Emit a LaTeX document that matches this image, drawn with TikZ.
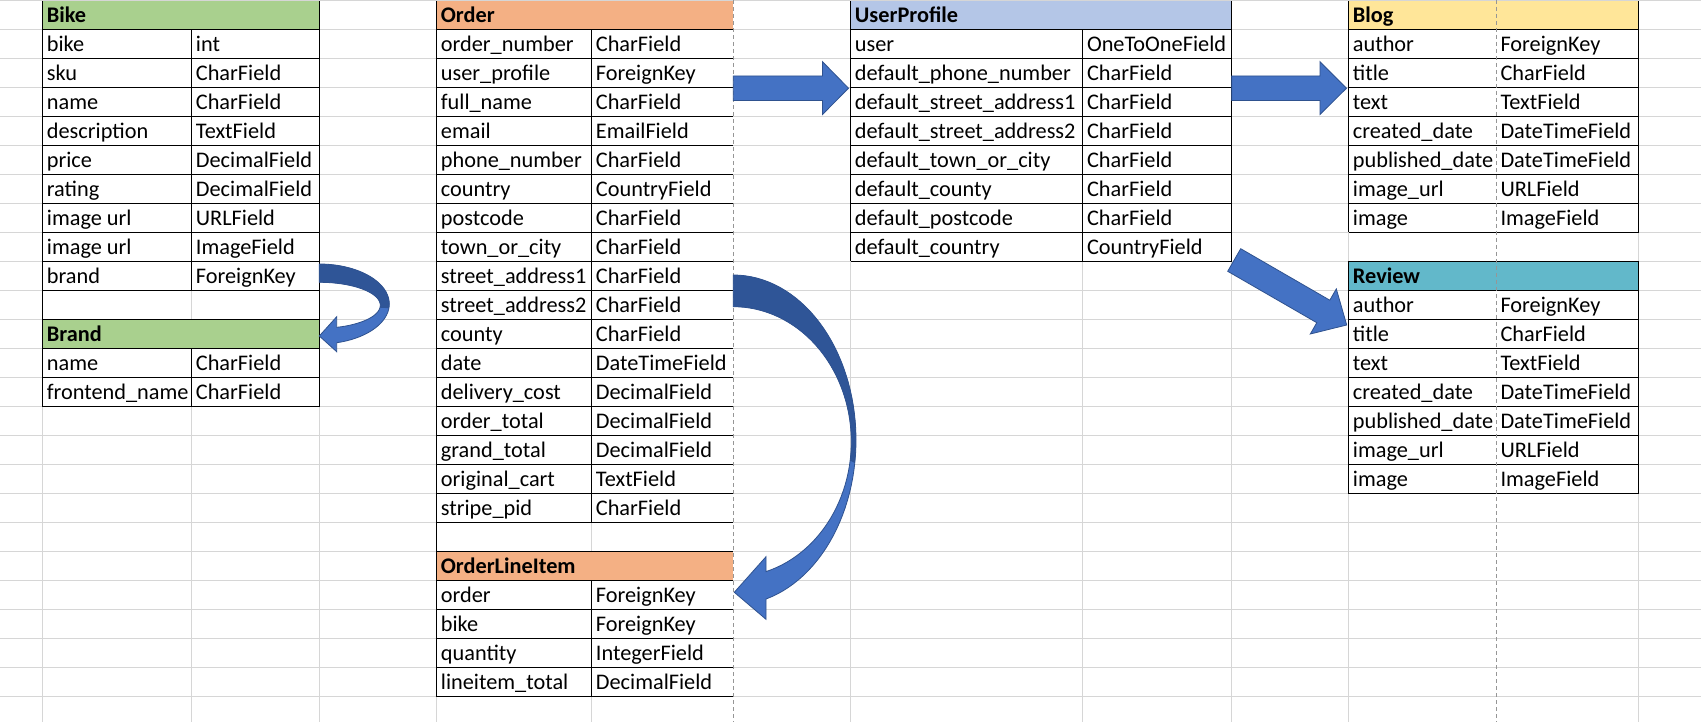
\documentclass[tikz,border=0pt]{standalone}
\usepackage{fontspec}
\setmainfont{Carlito}
\definecolor{gridgray}{RGB}{214,214,214}
\definecolor{pbgray}{RGB}{150,150,150}
\definecolor{hgreen}{RGB}{169,208,142}
\definecolor{horange}{RGB}{244,176,132}
\definecolor{hblue}{RGB}{180,198,231}
\definecolor{hyellow}{RGB}{255,230,153}
\definecolor{hteal}{RGB}{98,184,202}
\definecolor{arrowlight}{RGB}{68,114,196}
\definecolor{arrowdark}{RGB}{47,85,151}
\definecolor{arrowedge}{RGB}{47,82,143}
\begin{document}
\begin{tikzpicture}[x=1pt,y=-1pt,
  cell/.style={anchor=base west, inner sep=0pt, font=\fontsize{22.3}{26}\selectfont},
  headcell/.style={anchor=base west, inner sep=0pt, font=\fontsize{22.3}{26}\selectfont\bfseries},
  gridline/.style={draw=gridgray, line width=1pt},
  tblline/.style={draw=black, line width=1.2pt},
  pagebreak/.style={draw=pbgray, line width=1pt, dash pattern=on 4pt off 3pt},
  blockarrow/.style={fill=arrowlight, draw=arrowedge, line width=0.8pt, line join=miter},
  backpart/.style={fill=arrowdark},
  edgeonly/.style={draw=arrowedge, line width=0.8pt, line join=miter},
]
\useasboundingbox (0,0) rectangle (1701,722);
\fill[white] (0,0) rectangle (1701,722);
\begin{scope}
\clip (0,0) rectangle (1701,722);
% spreadsheet grid
\foreach \gx in {42.7,191.7,319.3,436.7,591.7,850.7,1082.8,1231.5,1348.7,1638.7}
  \draw[gridline] (\gx,0) -- (\gx,722);
\foreach \k in {0,...,24}
  \draw[gridline] (0,{0.5+29*\k}) -- (1701,{0.5+29*\k});

% header fills
\fill[hgreen]  (42.7,1.2) rectangle (319.3,29.5);
\fill[hgreen]  (42.7,319.5) rectangle (319.3,348.5);
\fill[horange] (436.7,1.2) rectangle (733.3,29.5);
\fill[horange] (436.7,551.5) rectangle (733.3,580.5);
\fill[hblue]   (850.7,1.2) rectangle (1231.5,29.5);
\fill[hyellow] (1348.7,1.2) rectangle (1638.7,29.5);
\fill[hteal]   (1348.7,261.5) rectangle (1638.7,290.5);

% Bike / Brand borders
\draw[tblline] (42.7,1.2) -- (42.7,406.5);
\draw[tblline] (319.3,1.2) -- (319.3,406.5);
\foreach \yy in {29.5,58.5,87.5,116.5,145.5,174.5,203.5,232.5,261.5,290.5,319.5,348.5,377.5,406.5}
  \draw[tblline] (42.7,\yy) -- (319.3,\yy);
\draw[tblline] (191.7,29.5) -- (191.7,290.5);
\draw[tblline] (191.7,348.5) -- (191.7,406.5);

% Order / OrderLineItem borders
\draw[tblline] (436.7,1.2) -- (436.7,696.5);
\foreach \yy in {29.5,58.5,87.5,116.5,145.5,174.5,203.5,232.5,261.5,290.5,319.5,348.5,377.5,406.5,435.5,464.5,493.5,522.5,551.5,580.5,609.5,638.5,667.5,696.5}
  \draw[tblline] (436.7,\yy) -- (733.3,\yy);
\draw[tblline] (591.7,29.5) -- (591.7,522.5);
\draw[tblline] (591.7,580.5) -- (591.7,696.5);

% UserProfile borders
\draw[tblline] (850.7,1.2) -- (850.7,261.5);
\draw[tblline] (1231.5,1.2) -- (1231.5,261.5);
\foreach \yy in {29.5,58.5,87.5,116.5,145.5,174.5,203.5,232.5,261.5}
  \draw[tblline] (850.7,\yy) -- (1231.5,\yy);
\draw[tblline] (1082.8,29.5) -- (1082.8,261.5);

% Blog borders
\draw[tblline] (1348.7,1.2) -- (1348.7,232.5);
\draw[tblline] (1638.7,1.2) -- (1638.7,232.5);
\foreach \yy in {29.5,58.5,87.5,116.5,145.5,174.5,203.5,232.5}
  \draw[tblline] (1348.7,\yy) -- (1638.7,\yy);

% Review borders
\draw[tblline] (1348.7,261.5) -- (1348.7,493.5);
\draw[tblline] (1638.7,261.5) -- (1638.7,493.5);
\foreach \yy in {261.5,290.5,319.5,348.5,377.5,406.5,435.5,464.5,493.5}
  \draw[tblline] (1348.7,\yy) -- (1638.7,\yy);

% page breaks
\draw[pagebreak] (733.3,0) -- (733.3,722);
\draw[pagebreak] (1496.3,0) -- (1496.3,722);
\end{scope}

% ---- texts ----
\node[headcell] (bike-h) at (46.7,22.7) {Bike};
\foreach \a/\b [count=\i] in {bike/int, sku/CharField, name/CharField, description/TextField, price/DecimalField, rating/DecimalField, image url/URLField, image url/ImageField, brand/ForeignKey}{
  \node[cell] (bike-a\i) at (46.7,{22.7+29*\i}) {\a};
  \node[cell] (bike-b\i) at (195.7,{22.7+29*\i}) {\b};
}
\node[headcell] (brand-h) at (46.7,{22.7+29*11}) {Brand};
\foreach \a/\b [count=\i] in {name/CharField, frontend\_name/CharField}{
  \node[cell] (brand-a\i) at (46.7,{22.7+29*(\i+11)}) {\a};
  \node[cell] (brand-b\i) at (195.7,{22.7+29*(\i+11)}) {\b};
}

\node[headcell] (order-h) at (440.7,22.7) {Order};
\foreach \a/\b [count=\i] in {order\_number/CharField, user\_profile/ForeignKey, full\_name/CharField, email/EmailField, phone\_number/CharField, country/CountryField, postcode/CharField, town\_or\_city/CharField, street\_address1/CharField, street\_address2/CharField, county/CharField, date/DateTimeField, delivery\_cost/DecimalField, order\_total/DecimalField, grand\_total/DecimalField, original\_cart/TextField, stripe\_pid/CharField}{
  \node[cell] (order-a\i) at (440.7,{22.7+29*\i}) {\a};
  \node[cell] (order-b\i) at (595.7,{22.7+29*\i}) {\b};
}
\node[headcell] (oli-h) at (440.7,{22.7+29*19}) {OrderLineItem};
\foreach \a/\b [count=\i] in {order/ForeignKey, bike/ForeignKey, quantity/IntegerField, lineitem\_total/DecimalField}{
  \node[cell] (oli-a\i) at (440.7,{22.7+29*(\i+19)}) {\a};
  \node[cell] (oli-b\i) at (595.7,{22.7+29*(\i+19)}) {\b};
}

\node[headcell] (up-h) at (854.7,22.7) {UserProfile};
\foreach \a/\b [count=\i] in {user/OneToOneField, default\_phone\_number/CharField, default\_street\_address1/CharField, default\_street\_address2/CharField, default\_town\_or\_city/CharField, default\_county/CharField, default\_postcode/CharField, default\_country/CountryField}{
  \node[cell] (up-a\i) at (854.7,{22.7+29*\i}) {\a};
  \node[cell] (up-b\i) at (1086.8,{22.7+29*\i}) {\b};
}

\node[headcell] (blog-h) at (1352.7,22.7) {Blog};
\foreach \a/\b [count=\i] in {author/ForeignKey, title/CharField, text/TextField, created\_date/DateTimeField, published\_date/DateTimeField, image\_url/URLField, image/ImageField}{
  \node[cell] (blog-a\i) at (1352.7,{22.7+29*\i}) {\a};
  \node[cell] (blog-b\i) at (1500.3,{22.7+29*\i}) {\b};
}
\node[headcell] (rev-h) at (1352.7,{22.7+29*9}) {Review};
\foreach \a/\b [count=\i] in {author/ForeignKey, title/CharField, text/TextField, created\_date/DateTimeField, published\_date/DateTimeField, image\_url/URLField, image/ImageField}{
  \node[cell] (rev-a\i) at (1352.7,{22.7+29*(\i+9)}) {\a};
  \node[cell] (rev-b\i) at (1500.3,{22.7+29*(\i+9)}) {\b};
}

% ---- arrows ----
% Order -> UserProfile
\draw[blockarrow] (733.3,76) -- (822.5,76) -- (822.5,61.7) -- (848.5,88.2) -- (822.5,114.5) -- (822.5,100.5) -- (733.3,100.5) -- cycle;
% UserProfile -> Blog
\draw[blockarrow] (1231.7,76) -- (1320,76) -- (1320,61.7) -- (1346.5,88.2) -- (1320,114.5) -- (1320,100.5) -- (1231.7,100.5) -- cycle;
% UserProfile -> Review
\draw[blockarrow] (1227.7,271.3) -- (1316.8,322.7) -- (1310.3,334) -- (1346.7,325) -- (1336.3,288.9) -- (1329.8,300.2) -- (1240.7,248.7) -- cycle;

% Bike -> Brand curved arrow
\fill[arrowlight] plot[domain=-90:75.6, samples=40, variable=\t] ({319.3+70*cos(\t)},{304+40*sin(\t)})
  -- (336.7,351.7) -- (319.3,336) -- (336.7,316.7)
  -- plot[domain=73.4:-90, samples=40, variable=\t] ({319.3+61*cos(\t)},{305.3+23*sin(\t)}) -- cycle;
\fill[backpart] plot[domain=-90:6, samples=40, variable=\t] ({319.3+70*cos(\t)},{304+40*sin(\t)})
  -- plot[domain=6:-90, samples=40, variable=\t] ({319.3+61*cos(\t)},{305.3+23*sin(\t)}) -- cycle;
\draw[edgeonly] plot[domain=-90:75.6, samples=40, variable=\t] ({319.3+70*cos(\t)},{304+40*sin(\t)})
  -- (336.7,351.7) -- (319.3,336) -- (336.7,316.7)
  -- plot[domain=73.4:-90, samples=40, variable=\t] ({319.3+61*cos(\t)},{305.3+23*sin(\t)}) -- cycle;

% Order -> OrderLineItem curved arrow
\fill[arrowlight] plot[domain=-90:74.5, samples=60, variable=\t] ({733.3+122.7*cos(\t)},{440+165*sin(\t)})
  -- (766,619.3) -- (734.3,592.3) -- (766,556.7)
  -- plot[domain=73.9:-90, samples=60, variable=\t] ({733.3+118*cos(\t)},{441.8+135.1*sin(\t)}) -- cycle;
\fill[backpart] plot[domain=-90:8, samples=60, variable=\t] ({733.3+122.7*cos(\t)},{440+165*sin(\t)})
  -- plot[domain=8:-90, samples=60, variable=\t] ({733.3+118*cos(\t)},{441.8+135.1*sin(\t)}) -- cycle;
\draw[edgeonly] plot[domain=-90:74.5, samples=60, variable=\t] ({733.3+122.7*cos(\t)},{440+165*sin(\t)})
  -- (766,619.3) -- (734.3,592.3) -- (766,556.7)
  -- plot[domain=73.9:-90, samples=60, variable=\t] ({733.3+118*cos(\t)},{441.8+135.1*sin(\t)}) -- cycle;
\end{tikzpicture}
\end{document}
